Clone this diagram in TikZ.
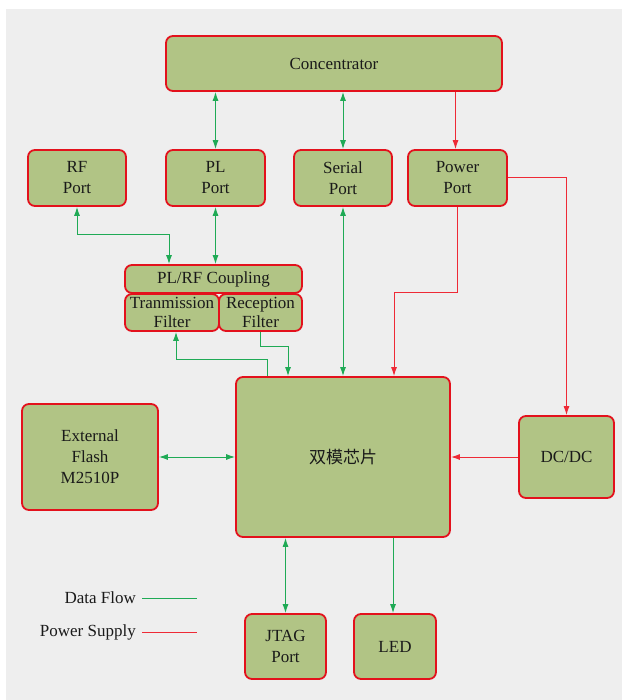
\documentclass[tikz,border=0pt]{standalone}
\usepackage{fontspec}
\setmainfont{Liberation Serif}
\newfontfamily\cjkfont{Noto Sans CJK SC}
\usetikzlibrary{arrows.meta,calc}
\definecolor{bgc}{HTML}{EEEEEE}
\definecolor{boxfill}{HTML}{B1C485}
\definecolor{boxred}{HTML}{E3111C}
\definecolor{datag}{HTML}{1FAA55}
\definecolor{powr}{HTML}{EE2A36}
\definecolor{txt}{HTML}{1A1A1A}
\tikzset{
  box/.style={draw=boxred, fill=boxfill, line width=1.8pt, rounded corners=7pt,
    inner sep=0pt, align=center, font=\fontsize{17}{21}\selectfont, text=txt},
  data/.style={draw=datag, line width=1pt},
  pow/.style={draw=powr, line width=1pt},
  tip/.style={-{Latex[length=9pt,width=6pt]}},
  tips/.style={{Latex[length=9pt,width=6pt]}-{Latex[length=9pt,width=6pt]}},
  lgd/.style={font=\fontsize{17}{21}\selectfont, inner sep=0pt, text=txt}
}
\begin{document}
\begin{tikzpicture}[x=1pt,y=-1pt]
\useasboundingbox (0,0) rectangle (622,700);
\fill[bgc] (6,9) rectangle (622,700);
% legend
\node[lgd, anchor=east] (lg1) at (136,598) {Data Flow};
\node[lgd, anchor=east] (lg2) at (136,632) {Power Supply};
\coordinate (lg1e) at (197,598.5);
\coordinate (lg2e) at (197,632.5);
\draw[data, line width=1.2pt] (lg1e -| lg1.east) ++(6,0) -- (lg1e);
\draw[pow, line width=1.2pt] (lg2e -| lg2.east) ++(6,0) -- (lg2e);
% nodes
\node[box, minimum width=336pt, minimum height=55pt] (conc) at (334,63.5) {Concentrator};
\node[box, minimum width=98pt, minimum height=56pt] (rf) at (77,178) {RF\\Port};
\node[box, minimum width=99pt, minimum height=56pt] (pl) at (215.5,178) {PL\\Port};
\node[box, minimum width=98pt, minimum height=56pt] (serial) at (343,178) {Serial\\Port};
\node[box, minimum width=99pt, minimum height=56pt] (power) at (457.5,178) {Power\\Port};
\node[box, minimum width=177pt, minimum height=28pt] (coup) at (213.5,279) {PL/RF Coupling};
\node[box, minimum width=94pt, minimum height=37pt, font=\fontsize{17}{19}\selectfont] (trans) at (172,312.5) {Tranmission\\Filter};
\node[box, minimum width=83pt, minimum height=37pt, font=\fontsize{17}{19}\selectfont] (recep) at (260.5,312.5) {Reception\\Filter};
\node[box, minimum width=214pt, minimum height=160pt, font=\fontsize{17}{21}\cjkfont] (chip) at (343,457) {\raisebox{-3pt}{双模芯片}};
\node[box, minimum width=136pt, minimum height=106pt, font=\fontsize{17}{21}\selectfont] (flash) at (90,457) {External\\Flash\\M2510P};
\node[box, minimum width=95pt, minimum height=82pt] (dcdc) at (566.5,457) {DC/DC};
\node[box, minimum width=81pt, minimum height=65pt] (jtag) at (285.5,646.5) {JTAG\\Port};
\node[box, minimum width=82pt, minimum height=65pt] (led) at (395,646.5) {LED};
% connectors
\draw[data,tips] (pl.north) -- (pl.north |- conc.south);
\draw[data,tips] (serial.north) -- (serial.north |- conc.south);
\draw[pow,tip] ([xshift=-2pt]power.north |- conc.south) -- ([xshift=-2pt]power.north);
\draw[data,tips] (rf.south) -- ++(0,28) -| ([xshift=-44.5pt]coup.north);
\draw[data,tips] (pl.south) -- (pl.south |- coup.north);
\draw[data,tips] (serial.south) -- (serial.south |- chip.north);
\draw[data,tip] ([xshift=-76pt]chip.north) -- ++(0,-17) -| ([xshift=4pt]trans.south);
\draw[data,tip] ([xshift=-0.5pt]recep.south) -- ++(0,15) -| ([xshift=-55pt]chip.north);
\draw[pow,tip] (power.south) -- ++(0,86) -| ([xshift=51pt]chip.north);
\draw[pow,tip] (power.east) -| (dcdc.north);
\draw[pow,tip] (dcdc.west) -- (chip.east);
\draw[data,tips] (flash.east) -- (chip.west);
\draw[data,tips] (jtag.north) -- (jtag.north |- chip.south);
\draw[data,tip] ([xshift=-2pt]led.north |- chip.south) -- ([xshift=-2pt]led.north);
\end{tikzpicture}
\end{document}
